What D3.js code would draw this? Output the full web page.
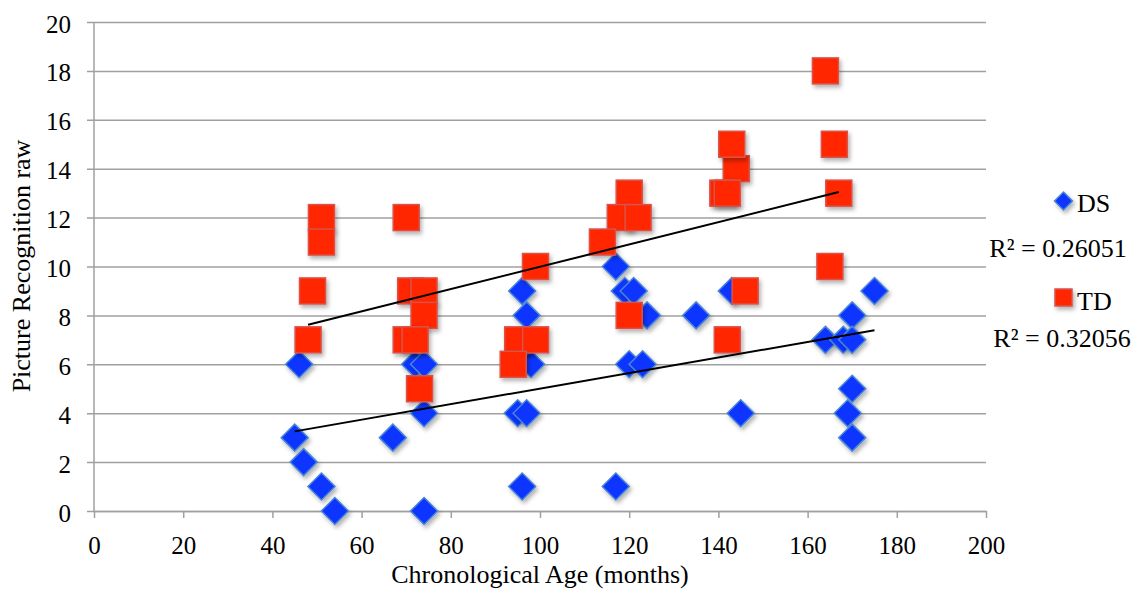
<!DOCTYPE html>
<html>
<head>
<meta charset="utf-8">
<script src="https://cdn.jsdelivr.net/npm/d3@7"></script>
<style>
  html, body { margin: 0; padding: 0; background: #fff; }
  svg { display: block; font-family: "Liberation Serif", "Times New Roman", serif; }
  svg text { font-family: "Liberation Serif", "Times New Roman", serif; }
</style>
</head>
<body>
<svg id="chart" width="1143" height="601"></svg>
<script>
// Chronological age (months) and picture recognition raw score, per group
const dsAge   = [46, 72, 74, 96, 97, 98, 45, 47, 51, 54, 67, 74, 74, 96, 95, 97,
                 117, 119, 121, 124, 135, 143, 120, 123, 145, 117,
                 175, 170, 164, 168, 170, 170, 169, 170];
const dsScore = [6, 6, 6, 9, 8, 6, 3, 2, 1, 0, 3, 4, 0, 1, 4, 4,
                 10, 9, 9, 8, 8, 9, 6, 6, 4, 1,
                 9, 8, 7, 7, 7, 5, 4, 3];

const tdAge   = [51, 51, 70, 49, 71, 74, 74, 99, 48, 70, 72, 73, 95, 99, 94,
                 120, 118, 122, 114, 144, 141, 142, 120, 146, 142, 143,
                 164, 166, 167, 165];
const tdScore = [12, 11, 12, 9, 9, 9, 8, 10, 7, 7, 7, 5, 7, 7, 6,
                 13, 12, 12, 11, 14, 13, 13, 8, 9, 7, 15,
                 18, 15, 13, 10];

const seriesNames = ["DS", "TD"];
const rSquaredLabels = ["R² = 0.26051", "R² = 0.32056"];
const xTicks = [0, 20, 40, 60, 80, 100, 120, 140, 160, 180, 200];
const yTicks = [0, 2, 4, 6, 8, 10, 12, 14, 16, 18, 20];

const SERIF = "'Liberation Serif', 'Times New Roman', serif";

const svg = d3.select("#chart");

const x = d3.scaleLinear().domain([0, 200]).range([94, 986]);
const y = d3.scaleLinear().domain([0, 20]).range([511, 22]);

// Soft drop shadow used by the markers
const defs = svg.append("defs");
const f = defs.append("filter").attr("id", "shadow")
  .attr("x", "-50%").attr("y", "-50%").attr("width", "200%").attr("height", "200%");
f.append("feDropShadow").attr("dx", 2).attr("dy", 3).attr("stdDeviation", 2)
  .attr("flood-color", "#000").attr("flood-opacity", 0.3);

// Horizontal gridlines (extend left as tick marks)
const yAxis = d3.axisLeft(y).tickValues(yTicks).tickSize(-(986 - 94)).tickSizeOuter(0)
  .tickFormat(d3.format("d")).tickPadding(23);
const gy = svg.append("g").attr("transform", "translate(94,0)").call(yAxis);
gy.attr("font-family", SERIF).attr("font-size", 25).style("font-family", SERIF);
gy.select(".domain").remove();
gy.selectAll(".tick line").attr("stroke", "#a0a0a0").attr("stroke-width", 1.5).attr("x1", -7);
gy.selectAll(".tick text")
  .style("font-family", SERIF).style("font-size", "25px")
  .attr("fill", "#000").attr("dy", "0.4em");

// Vertical axis line
svg.append("line").attr("x1", 94).attr("x2", 94).attr("y1", y(20)).attr("y2", y(0))
  .attr("stroke", "#a0a0a0").attr("stroke-width", 1.5);

// X axis with downward ticks
const xAxis = d3.axisBottom(x).tickValues(xTicks).tickSize(7).tickSizeOuter(0)
  .tickFormat(d3.format("d")).tickPadding(18);
const gx = svg.append("g").attr("transform", "translate(0,511)").call(xAxis);
gx.attr("font-family", SERIF).attr("font-size", 25).style("font-family", SERIF);
gx.select(".domain").attr("stroke", "#a0a0a0").attr("stroke-width", 1.5);
gx.selectAll(".tick line").attr("stroke", "#a0a0a0").attr("stroke-width", 1.5);
gx.selectAll(".tick text")
  .style("font-family", SERIF).style("font-size", "25px")
  .attr("fill", "#000").attr("dy", "0.71em");

// Axis titles
svg.append("text").attr("x", 540).attr("y", 583).attr("text-anchor", "middle")
  .style("font-family", SERIF).style("font-size", "26px").text("Chronological Age (months)");
svg.append("text").attr("transform", "translate(30,266) rotate(-90)")
  .attr("text-anchor", "middle").style("font-family", SERIF).style("font-size", "26px")
  .text("Picture Recognition raw");

const ds = dsAge.map((a, i) => ({ x: a, y: dsScore[i] }));
const td = tdAge.map((a, i) => ({ x: a, y: tdScore[i] }));

const diamond = s => `M0,${-s}L${s},0L0,${s}L${-s},0Z`;

// DS markers (diamonds)
svg.append("g").selectAll("path").data(ds).join("path")
  .attr("transform", d => `translate(${x(d.x)},${y(d.y)})`)
  .attr("d", diamond(13.5))
  .attr("fill", "#0a35ff").attr("stroke", "#4b86d6").attr("stroke-width", 1.5)
  .attr("filter", "url(#shadow)");

// TD markers (squares)
svg.append("g").selectAll("rect").data(td).join("rect")
  .attr("x", d => x(d.x) - 13).attr("y", d => y(d.y) - 13)
  .attr("width", 26).attr("height", 26)
  .attr("fill", "#ff2600").attr("stroke", "#d9534a").attr("stroke-width", 1.5)
  .attr("filter", "url(#shadow)");

// Least-squares linear trendlines over each series' age range
function fit(pts) {
  const mx = d3.mean(pts, p => p.x), my = d3.mean(pts, p => p.y);
  const sxy = d3.sum(pts, p => (p.x - mx) * (p.y - my));
  const sxx = d3.sum(pts, p => (p.x - mx) * (p.x - mx));
  const b = sxy / sxx, a = my - b * mx;
  const [lo, hi] = d3.extent(pts, p => p.x);
  return [{ x: lo, y: a + b * lo }, { x: hi, y: a + b * hi }];
}
const line = d3.line().x(d => x(d.x)).y(d => y(d.y));
[ds, td].forEach(pts => {
  svg.append("path").attr("d", line(fit(pts)))
    .attr("fill", "none").attr("stroke", "#000").attr("stroke-width", 2);
});

// Legend
const lg = svg.append("g").style("font-family", SERIF).style("font-size", "26px");
lg.append("path").attr("transform", "translate(1063.5,201)").attr("d", diamond(9))
  .attr("fill", "#0a35ff").attr("stroke", "#4b86d6").attr("stroke-width", 1.5)
  .attr("filter", "url(#shadow)");
lg.append("text").attr("x", 1077).attr("y", 212).text(seriesNames[0]);
lg.append("text").attr("x", 1058).attr("y", 257).attr("text-anchor", "middle")
  .text(rSquaredLabels[0]);
lg.append("rect").attr("x", 1055).attr("y", 289).attr("width", 17).attr("height", 17)
  .attr("fill", "#ff2600").attr("stroke", "#d9534a").attr("stroke-width", 1.5)
  .attr("filter", "url(#shadow)");
lg.append("text").attr("x", 1077).attr("y", 310).text(seriesNames[1]);
lg.append("text").attr("x", 1062).attr("y", 347).attr("text-anchor", "middle")
  .text(rSquaredLabels[1]);
</script>
</body>
</html>
